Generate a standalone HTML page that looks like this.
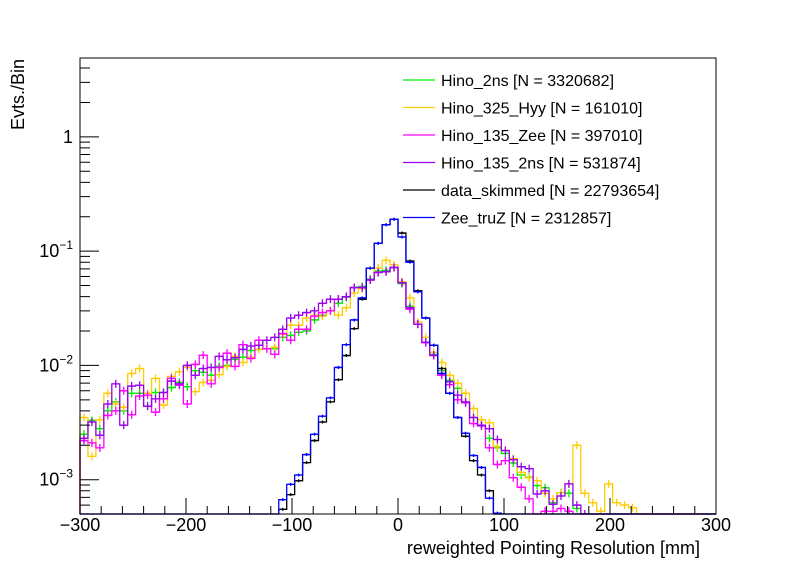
<!DOCTYPE html>
<html><head><meta charset="utf-8">
<style>
html,body{margin:0;padding:0;background:#fff;}
svg{display:block;font-family:"Liberation Sans",Arial,sans-serif;}
</style></head>
<body>
<svg id="chart" width="796" height="572" viewBox="0 0 796 572" xmlns="http://www.w3.org/2000/svg">
<rect x="0" y="0" width="796" height="572" fill="#fff"/>
<g id="series"></g>
<g id="axes"></g>
<g id="legend"></g>
</svg>
<script>
const binLow = -300, binWidth = 7.5, nBins = 80;
const xTicks = [-300,-200,-100,0,100,200,300];
const xTickLabels = ["\u2212300","\u2212200","\u2212100","0","100","200","300"];
const yDecades = [-3,-2,-1,0];
const seriesNames = ["Hino_2ns [N = 3320682]","Hino_325_Hyy [N = 161010]","Hino_135_Zee [N = 397010]","Hino_135_2ns [N = 531874]","data_skimmed [N = 22793654]","Zee_truZ [N = 2312857]"];
const seriesColors = ["#00ee00","#ffcc00","#ff00ff","#9900ee","#000000","#0000ff"];
// bin contents, starting at bin 0
const hino2ns = [2.5e-3,3.3e-3,2.8e-3,4.0e-3,4.8e-3,4.0e-3,5.7e-3,5.7e-3,4.4e-3,5.8e-3,5.8e-3,6.4e-3,7.1e-3,6.5e-3,9.0e-3,8.7e-3,8.2e-3,9.8e-3,1.0e-2,1.13e-2,1.18e-2,1.35e-2,1.38e-2,1.4e-2,1.4e-2,1.76e-2,1.83e-2,1.95e-2,2.0e-2,2.5e-2,2.75e-2,3.0e-2,3.5e-2,3.95e-2,4.8e-2,4.9e-2,5.7e-2,6.7e-2,6.8e-2,7.2e-2,5.2e-2,3.3e-2,2.3e-2,1.6e-2,1.25e-2,9.0e-3,7.4e-3,6.3e-3,4.7e-3,3.5e-3,3.0e-3,2.3e-3,1.9e-3,1.7e-3,1.4e-3,1.1e-3,1.05e-3,8.9e-4,8.5e-4,6.3e-4,7.7e-4,7.6e-4,5.6e-4,0,0,0,0,0,0,0,0,0,0,0,0,0,0,0,0,0];
const hino325 = [3.5e-3,1.6e-3,3.35e-3,5.7e-3,4.6e-3,4.3e-3,8.5e-3,9.4e-3,5.7e-3,7.7e-3,4.5e-3,8.0e-3,8.8e-3,9.6e-3,5.9e-3,7.1e-3,7.4e-3,8.3e-3,9.8e-3,1.2e-2,1.06e-2,1.18e-2,1.38e-2,1.4e-2,1.44e-2,1.87e-2,2.25e-2,2.25e-2,2.6e-2,2.75e-2,2.7e-2,3.0e-2,2.75e-2,3.2e-2,4.3e-2,4.7e-2,5.6e-2,7.1e-2,8.3e-2,7.6e-2,5.4e-2,3.9e-2,2.4e-2,1.76e-2,1.3e-2,1.06e-2,8.2e-3,7.0e-3,5.7e-3,4.2e-3,3.35e-3,3.15e-3,1.95e-3,1.8e-3,1.53e-3,1.16e-3,1.04e-3,9.8e-4,7.6e-4,6.8e-4,7.7e-4,9.2e-4,2.0e-3,7.6e-4,6.3e-4,5.3e-4,9.2e-4,6.3e-4,6.0e-4,5.7e-4,0,0,0,0,0,0,0,0,0,0];
const hino135zee = [2.2e-3,2.1e-3,1.9e-3,3.65e-3,4.0e-3,6.0e-3,3.7e-3,5.4e-3,5.5e-3,3.9e-3,5.1e-3,7.7e-3,6.7e-3,4.6e-3,1.02e-2,1.23e-2,6.9e-3,9.6e-3,1.28e-2,9.8e-3,1.52e-2,1.15e-2,1.66e-2,1.4e-2,1.25e-2,1.9e-2,1.66e-2,2.07e-2,2.07e-2,2.7e-2,2.9e-2,3.0e-2,3.8e-2,4.0e-2,4.8e-2,4.8e-2,5.6e-2,6.5e-2,6.6e-2,7.2e-2,5.3e-2,3.1e-2,2.3e-2,1.58e-2,1.22e-2,8.2e-3,6.8e-3,5.0e-3,4.7e-3,3.1e-3,2.95e-3,1.9e-3,1.36e-3,1.47e-3,1.04e-3,8.6e-4,6.8e-4,0,5.3e-4,5.3e-4,5.6e-4,5.3e-4,0,0,0,0,0,0,0,0,0,0,0,0,0,0,0,0,0,0];
const hino1352ns = [2.3e-3,3.2e-3,2.45e-3,4.6e-3,6.9e-3,3.0e-3,6.6e-3,6.7e-3,4.4e-3,5.1e-3,5.8e-3,7.3e-3,6.9e-3,1.0e-2,8.2e-3,9.4e-3,9.6e-3,1.2e-2,1.12e-2,1.17e-2,1.38e-2,1.48e-2,1.5e-2,1.66e-2,1.76e-2,2.07e-2,2.6e-2,2.75e-2,2.9e-2,3.0e-2,3.5e-2,3.8e-2,3.8e-2,4.0e-2,4.8e-2,4.8e-2,5.6e-2,6.5e-2,6.6e-2,7.2e-2,5.3e-2,3.2e-2,2.3e-2,1.6e-2,1.23e-2,8.5e-3,7.2e-3,5.5e-3,4.8e-3,3.5e-3,3.0e-3,2.8e-3,2.25e-3,1.8e-3,1.5e-3,1.3e-3,1.25e-3,7.5e-4,8.0e-4,6.1e-4,7.2e-4,9.2e-4,6.0e-4,5.0e-4,0,0,0,0,0,0,0,0,0,0,0,0,0,0,0,0];
const dataSkimmed = [0,0,0,0,0,0,0,0,0,0,0,0,0,0,0,0,0,0,0,0,0,0,0,0,0,5.5e-4,7.4e-4,9.8e-4,1.41e-3,2.2e-3,3.2e-3,4.8e-3,7.5e-3,1.22e-2,2.1e-2,3.8e-2,7.1e-2,0.117,0.17,0.19,0.144,0.082,4.5e-2,2.6e-2,1.5e-2,9.4e-3,5.7e-3,3.5e-3,2.4e-3,1.47e-3,1.1e-3,8.0e-4,5.0e-4,0,0,0,0,0,0,0,0,0,0,0,0,0,0,0,0,0,0,0,0,0,0,0,0,0,0,0];
const zeeTruZ = [0,0,0,0,0,0,0,0,0,0,0,0,0,0,0,0,0,0,0,0,0,0,0,0,0,6.7e-4,9.1e-4,1.1e-3,1.66e-3,2.5e-3,3.6e-3,5.2e-3,9.6e-3,1.52e-2,2.5e-2,3.9e-2,7.1e-2,0.117,0.17,0.19,0.133,0.08,4.4e-2,2.6e-2,1.5e-2,8.5e-3,5.7e-3,3.5e-3,2.55e-3,1.63e-3,1.28e-3,6.9e-4,5.1e-4,0,0,0,0,0,0,0,0,0,0,0,0,0,0,0,0,0,0,0,0,0,0,0,0,0,0,0];
const allSeries = [hino2ns,hino325,hino135zee,hino1352ns,dataSkimmed,zeeTruZ];

const NS="http://www.w3.org/2000/svg";
const L=80,R=716,T=58,B=514;
const yMinLog=-3.3, yMaxLog=0.69;
function xs(v){return L+(v-(-300))/600*(R-L);}
function ys(v){ if(v<=0) return B; let y=B-(Math.log10(v)-yMinLog)/(yMaxLog-yMinLog)*(B-T); return Math.min(B,Math.max(T,y)); }
function mk(tag,attrs,parent){const e=document.createElementNS(NS,tag);for(const k in attrs)e.setAttribute(k,attrs[k]);parent.appendChild(e);return e;}

const sg=document.getElementById('series');
allSeries.forEach((arr,si)=>{
  let d='';
  for(let i=0;i<nBins;i++){
    const x0=xs(binLow+i*binWidth), x1=xs(binLow+(i+1)*binWidth), y=ys(arr[i]);
    d+=(i===0?'M'+x0+','+B+'L'+x0+','+y:'L'+x0+','+y)+'L'+x1+','+y;
  }
  d+='L'+xs(binLow+nBins*binWidth)+','+B;
  const p=mk('path',{d:d,fill:'none',stroke:seriesColors[si],'stroke-width':1.3},sg);
  
  
  let ed='';
  for(let i=0;i<nBins;i++){
    if(arr[i]<=0) continue;
    const xc=xs(binLow+(i+0.5)*binWidth), y=ys(arr[i]);
    const h = si>=4 ? 1.5 : 4;
    ed+='M'+xc+','+(y-h)+'L'+xc+','+Math.min(B,y+h)+'M'+(xc-3)+','+y+'L'+(xc+3)+','+y;
  }
  const e=mk('path',{d:ed,fill:'none',stroke:seriesColors[si],'stroke-width':1.3},sg);
  
  
});

const ag=document.getElementById('axes');
const frame=mk('rect',{x:L,y:T,width:R-L,height:B-T,fill:'none',stroke:'#000','stroke-width':1},ag);


let td='';
for(let v=-300;v<=300;v+=20){const x=xs(v);const len=(v%100===0)?16:8;td+='M'+x+','+B+'L'+x+','+(B-len);}
for(let dd=-4;dd<=0;dd++){for(let m=1;m<=9;m++){const v=m*Math.pow(10,dd);const y=ys(v);if(y<=T||y>=B)continue;const len=m===1?19:10;td+='M'+L+','+y+'L'+(L+len)+','+y;}}
const ticks=mk('path',{d:td,stroke:'#000','stroke-width':1,fill:'none'},ag);


xTicks.forEach((v,i)=>{
  const t=mk('text',{x:xs(v),y:531,'font-size':18,'text-anchor':'middle'},ag);
  t.textContent=xTickLabels[i];
  
  
});
yDecades.forEach(dd=>{
  const y=ys(Math.pow(10,dd));
  const t=mk('text',{x:73,y:y+6,'font-size':18,'text-anchor':'end'},ag);
  
  
  if(dd===0){t.textContent='1';}
  else{
    t.textContent='10';
    const s=mk('tspan',{dy:-8,'font-size':12},t);
    s.textContent='\u2212'+(-dd);
  }
});
const xt=mk('text',{x:700,y:554,'font-size':18,'text-anchor':'end'},ag);
xt.textContent='reweighted Pointing Resolution [mm]';


const yt=mk('text',{x:0,y:0,'font-size':18,'text-anchor':'end',transform:'translate(24,59) rotate(-90)'},ag);
yt.textContent='Evts./Bin';



const lg=document.getElementById('legend');
seriesNames.forEach((n,i)=>{
  const y=80+i*27.5;
  const ln=mk('line',{x1:403,x2:435,y1:y,y2:y,stroke:seriesColors[i],'stroke-width':1.2},lg);
  
  
  const t=mk('text',{x:441,y:y+6,'font-size':16},lg);
  t.textContent=n;
  
  
});
</script>
</body></html>
